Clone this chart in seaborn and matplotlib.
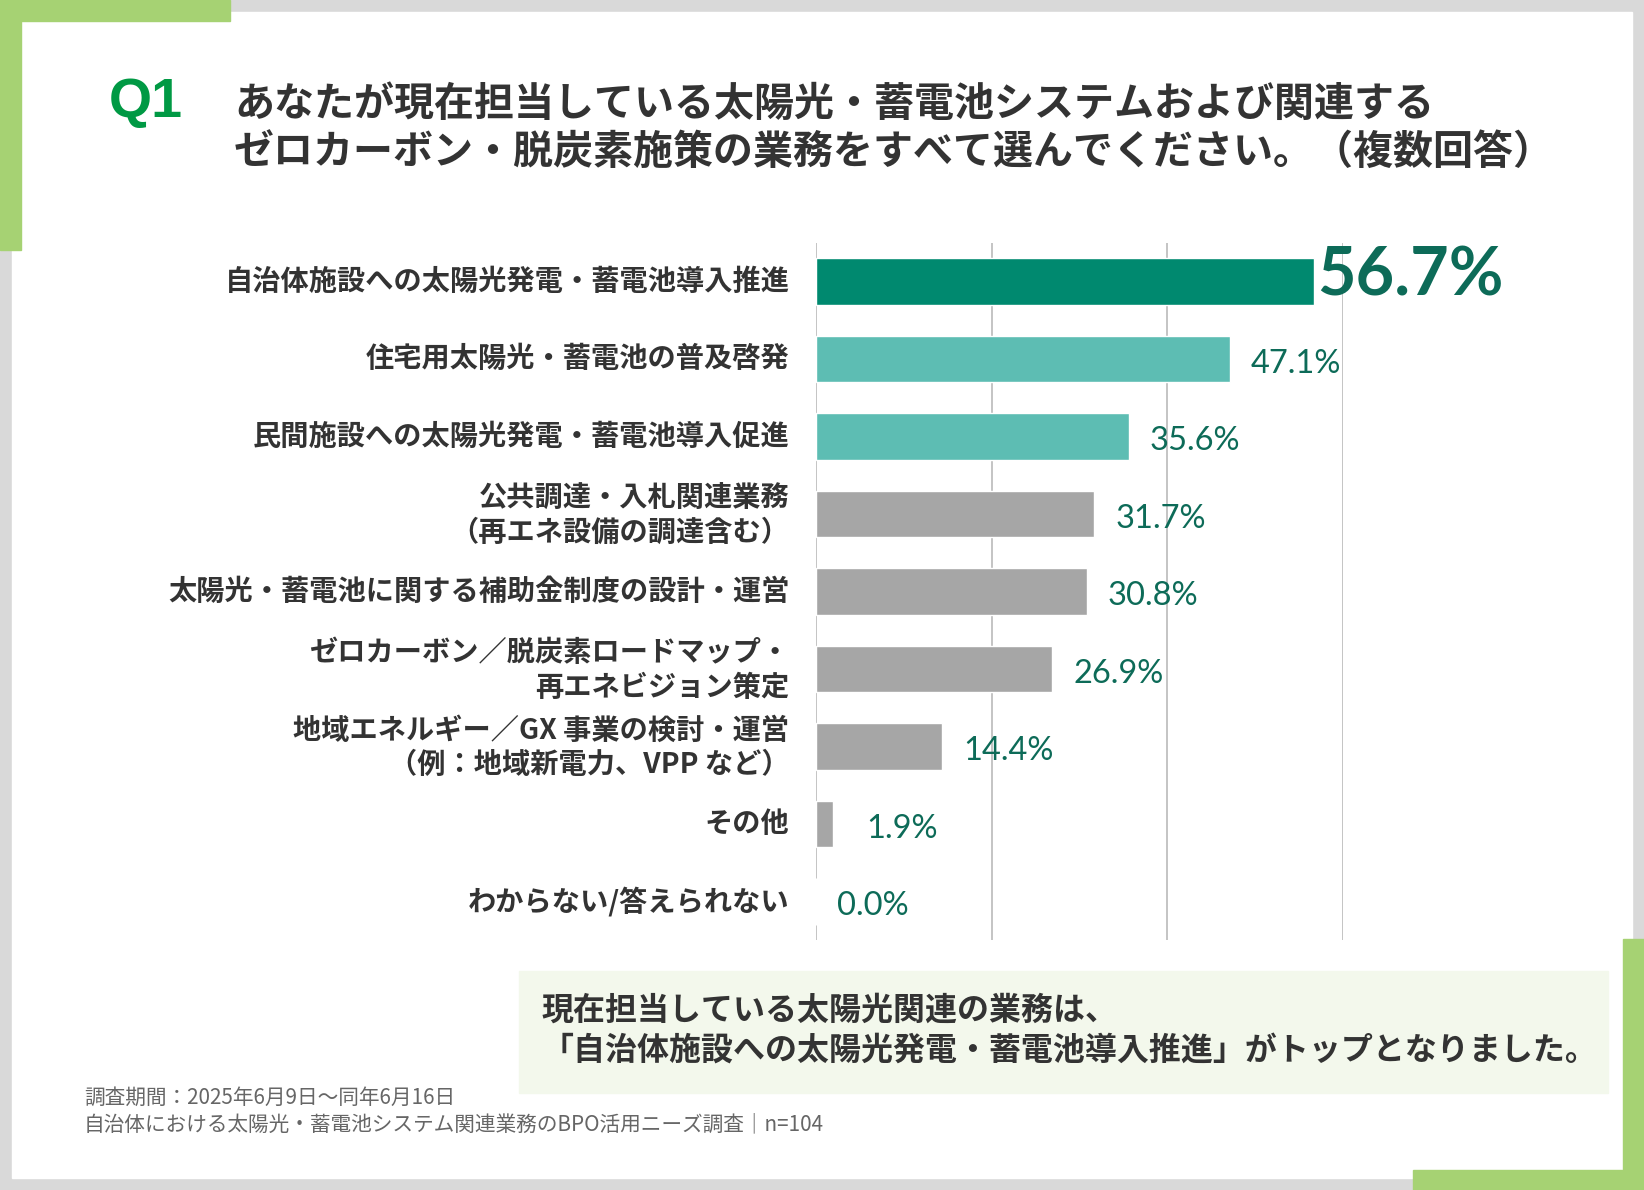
import matplotlib
matplotlib.use("Agg")
import matplotlib.pyplot as plt
import matplotlib.transforms as mtrans
import seaborn as sns
import pandas as pd
from matplotlib.patches import Rectangle

# ---- data -------------------------------------------------------------
categories = [
    "自治体施設への太陽光発電・蓄電池導入推進",
    "住宅用太陽光・蓄電池の普及啓発",
    "民間施設への太陽光発電・蓄電池導入促進",
    "公共調達・入札関連業務\n（再エネ設備の調達含む）",
    "太陽光・蓄電池に関する補助金制度の設計・運営",
    "ゼロカーボン／脱炭素ロードマップ・\n再エネビジョン策定",
    "地域エネルギー／GX 事業の検討・運営\n（例：地域新電力、VPP など）",
    "その他",
    "わからない/答えられない",
]
values = [56.7, 47.1, 35.6, 31.7, 30.8, 26.9, 14.4, 1.9, 0.0]
bar_colors = ["#00896F", "#5DBDB3", "#5DBDB3", "#A6A6A6", "#A6A6A6",
              "#A6A6A6", "#A6A6A6", "#A6A6A6", "#A6A6A6"]
x_ticks = [0, 20, 40, 60]

title_tag = "Q1"
title_lines = [
    "あなたが現在担当している太陽光・蓄電池システムおよび関連する",
    "ゼロカーボン・脱炭素施策の業務をすべて選んでください。（複数回答）",
]
summary_lines = [
    "現在担当している太陽光関連の業務は、",
    "「自治体施設への太陽光発電・蓄電池導入推進」がトップとなりました。",
]
notes = [
    "調査期間：2025年6月9日～同年6月16日",
    "自治体における太陽光・蓄電池システム関連業務のBPO活用ニーズ調査｜n=104",
]

df = pd.DataFrame({"item": categories, "pct": values})

sns.set_theme(style="white")
plt.rcParams["font.family"] = ["Noto Sans CJK JP", "DejaVu Sans"]

W, H = 1644, 1190
fig = plt.figure(figsize=(W / 100, H / 100), dpi=100, facecolor="#D9D9D9")

# background layer in pixel coordinates
bg = fig.add_axes([0, 0, 1, 1])
bg.set_xlim(0, W)
bg.set_ylim(H, 0)
bg.axis("off")
green = "#A6D273"
bg.add_patch(Rectangle((12, 12), 1620, 1166, color="white", zorder=0))
bg.add_patch(Rectangle((0, 0), 230, 21, color=green, zorder=1))
bg.add_patch(Rectangle((0, 0), 21, 250, color=green, zorder=1))
bg.add_patch(Rectangle((1623, 939), 21, 251, color=green, zorder=1))
bg.add_patch(Rectangle((1413, 1170), 231, 20, color=green, zorder=1))
bg.add_patch(Rectangle((519, 971), 1089, 122, color="#F3F8EC", zorder=1))

bg.text(109, 103, title_tag, fontsize=40, fontweight="bold", color="#009944",
        family=["Liberation Sans", "DejaVu Sans"], va="center", ha="left")
for i, line in enumerate(title_lines):
    bg.text(234, 104 + 48 * i, line, fontsize=28.8, fontweight="bold",
            color="#333333", va="center", ha="left")
for i, line in enumerate(summary_lines):
    bg.text(542, 1011 + 40 * i, line, fontsize=23, fontweight="bold",
            color="#333333", va="center", ha="left")
for i, line in enumerate(notes):
    bg.text(84, 1098 + 26 * i, line, fontsize=14.9, color="#666666",
            va="center", ha="left")

# ---- bar chart --------------------------------------------------------
ax = fig.add_axes([816 / W, 1 - 940 / H, 527 / W, 697 / H])
ax.patch.set_alpha(0)
sns.barplot(data=df, x="pct", y="item", hue="item", palette=bar_colors,
            legend=False, orient="h", width=0.6, ax=ax, zorder=3,
            saturation=1)
ax.set_xlim(0, 60)
ax.set_ylim(len(categories) - 0.5, -0.5)
ax.set_xticks(x_ticks)
ax.set_xticklabels([])
ax.xaxis.grid(True, color="#BFBFBF", linewidth=1.3)
ax.yaxis.grid(False)
for s in ax.spines.values():
    s.set_visible(False)
ax.set_xlabel("")
ax.set_ylabel("")
ax.tick_params(axis="both", length=0)
ax.tick_params(axis="y", pad=19)
for lbl in ax.get_yticklabels():
    two_line = "\n" in lbl.get_text()
    lbl.set_fontsize(20.3)
    lbl.set_fontweight("bold")
    lbl.set_color("#333333")
    lbl.set_linespacing(1.3)
    shift = 5 if two_line else 3
    lbl.set_transform(lbl.get_transform() +
                      mtrans.ScaledTranslation(0, shift / 100, fig.dpi_scale_trans))

val_font = ["Lato", "DejaVu Sans"]
nudge = {7: 9}  # extra points to the right for the small "その他" label
for i, v in enumerate(values):
    if i == 0:
        ax.annotate(f"{v:.1f}%", (v, i), xytext=(2, 4), textcoords="offset points",
                    fontsize=48, fontweight="bold", color="#0D6B58",
                    family=val_font, va="center", ha="left")
    else:
        ax.annotate(f"{v:.1f}%", (v, i), xytext=(15 + nudge.get(i, 0), -3.5),
                    textcoords="offset points", fontsize=23.5, color="#0D6B58",
                    family=val_font, va="center", ha="left")

fig.savefig("out.png", dpi=100, facecolor=fig.get_facecolor())
